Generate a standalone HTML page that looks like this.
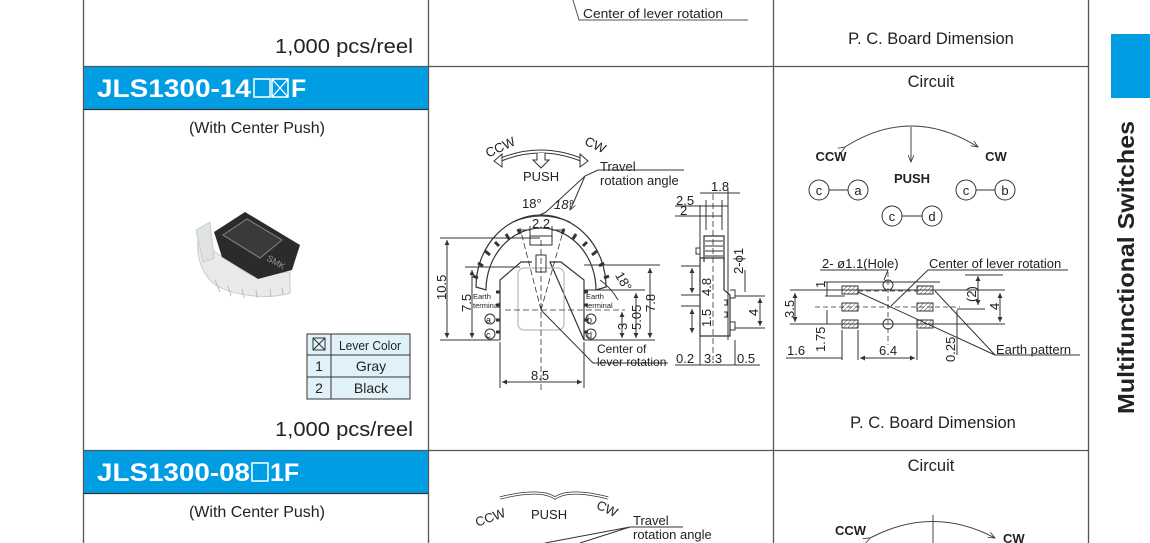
<!DOCTYPE html>
<html><head><meta charset="utf-8"><style>
html,body{margin:0;padding:0;background:#fff}
svg{display:block}
text{font-family:"Liberation Sans",Arial,sans-serif;fill:#222}
</style></head><body>
<svg width="1150" height="543" viewBox="0 0 1150 543" xmlns="http://www.w3.org/2000/svg">
<defs>
<pattern id="h" width="3" height="3" patternUnits="userSpaceOnUse" patternTransform="rotate(45)"><line x1="0" y1="0" x2="0" y2="3" stroke="#555" stroke-width="1"/></pattern>
<marker id="a" markerWidth="8" markerHeight="6" refX="7" refY="3" orient="auto"><path d="M0,0 L7,3 L0,6" fill="none" stroke="#333" stroke-width="0.8"/></marker>
<marker id="t" markerWidth="6" markerHeight="6" refX="5" refY="3" orient="auto-start-reverse"><path d="M0,0.5 L5,3 L0,5.5z" fill="#333"/></marker>
</defs>
<g stroke="#555" stroke-width="1.3" fill="none">
<line x1="83.5" y1="0" x2="83.5" y2="543"/>
<line x1="428.5" y1="0" x2="428.5" y2="543"/>
<line x1="773.5" y1="0" x2="773.5" y2="543"/>
<line x1="1088.5" y1="0" x2="1088.5" y2="543"/>
<line x1="83" y1="66.5" x2="1088" y2="66.5"/>
<line x1="83" y1="450.5" x2="1088" y2="450.5"/>
</g>
<rect x="84" y="67" width="344" height="42" fill="#009de3"/>
<line x1="83" y1="109.5" x2="428" y2="109.5" stroke="#333" stroke-width="1.3"/>
<rect x="84" y="451" width="344" height="42" fill="#009de3"/>
<line x1="83" y1="493.5" x2="428" y2="493.5" stroke="#333" stroke-width="1.3"/>
<rect x="1111" y="34" width="39" height="64" fill="#009de3"/>
<text transform="translate(1134,414) rotate(-90)" font-size="23" font-weight="bold" fill="#111" textLength="293" lengthAdjust="spacingAndGlyphs">Multifunctional Switches</text>

<text x="413" y="53" font-size="20" text-anchor="end" fill="#111" textLength="138" lengthAdjust="spacingAndGlyphs">1,000 pcs/reel</text>
<path d="M573,0 L579,20 L748,20" fill="none" stroke="#555"/>
<text x="583" y="18" font-size="12.5" textLength="140" lengthAdjust="spacingAndGlyphs">Center of lever rotation</text>
<text x="931" y="44" font-size="16.5" text-anchor="middle">P. C. Board Dimension</text>

<text x="97" y="97" font-size="25" font-weight="bold" style="fill:#fff" textLength="154" lengthAdjust="spacingAndGlyphs">JLS1300-14</text>
<rect x="254" y="79" width="16" height="18" fill="none" stroke="#fff" stroke-width="1.5"/>
<rect x="272" y="79" width="16" height="18" fill="none" stroke="#fff" stroke-width="1.5"/>
<path d="M272,79 L288,97 M288,79 L272,97" stroke="#fff" stroke-width="1.3"/>
<text x="291" y="97" font-size="25" font-weight="bold" style="fill:#fff">F</text>
<text x="97" y="481" font-size="25" font-weight="bold" style="fill:#fff" textLength="153" lengthAdjust="spacingAndGlyphs">JLS1300-08</text>
<rect x="252" y="463" width="16" height="18" fill="none" stroke="#fff" stroke-width="1.5"/>
<text x="270" y="481" font-size="25" font-weight="bold" style="fill:#fff">1F</text>

<text x="257" y="133" font-size="16" text-anchor="middle">(With Center Push)</text>
<text x="257" y="517" font-size="16" text-anchor="middle">(With Center Push)</text>
<text x="413" y="436" font-size="20" text-anchor="end" fill="#111" textLength="138" lengthAdjust="spacingAndGlyphs">1,000 pcs/reel</text>

<!-- product photo -->
<g>
<path d="M200,232 C194,250 200,272 214,284 C232,296 268,300 290,293 L290,272 L250,275 L215,252 Z" fill="#e8ebe9" stroke="#ccc"/>
<path d="M196,230 L210,222 L214,258 L203,262 Z" fill="#dfe3e2" stroke="#ccc"/>
<path d="M215,280 L220,292 M228,286 L231,296 M242,289 L244,298 M256,290 L257,298 M270,289 L271,297 M282,288 L283,295" stroke="#bbb"/>
<path d="M214,232 L245,212 L300,245 L292,270 L258,279 L222,257 Z" fill="#2b2b2b"/>
<path d="M223,235 L247,219 L282,240 L260,258 Z" fill="#3a3a3a" stroke="#888" stroke-width="1"/>
<text x="266" y="260" font-size="9" transform="rotate(30 266 260)" style="fill:#999">SMK</text>
</g>
<g font-size="14">
<rect x="307" y="334" width="103" height="65" fill="#e0f1fa" stroke="#333" stroke-width="1"/>
<line x1="307" y1="355" x2="410" y2="355" stroke="#333"/>
<line x1="307" y1="377" x2="410" y2="377" stroke="#333"/>
<line x1="331" y1="334" x2="331" y2="399" stroke="#333"/>
<rect x="313" y="338" width="12" height="12" fill="none" stroke="#333"/>
<path d="M313,338 L325,350 M325,338 L313,350" stroke="#333"/>
<text x="370" y="350" font-size="13" text-anchor="middle" textLength="62" lengthAdjust="spacingAndGlyphs">Lever Color</text>
<text x="319" y="371" text-anchor="middle">1</text><text x="371" y="371" text-anchor="middle">Gray</text>
<text x="319" y="393" text-anchor="middle">2</text><text x="371" y="393" text-anchor="middle">Black</text>
</g>

<g fill="none" stroke="#333" stroke-width="1">
<path d="M500,160 Q540,143 582,160" stroke-width="4"/><path d="M500,160 Q540,143 582,160" stroke="#fff" stroke-width="2"/>
<path d="M494,161 L502,154 L502,167 Z M588,161 L580,154 L580,167 Z" fill="#fff"/>
<path d="M537,153 L537,160 L533,160 L541,168 L549,160 L545,160 L545,153" fill="#fff"/>
<path d="M684,170 L598,170 L585,176 L546,212 M585,176 L572,206"/>
<path d="M546,212 L540,215 M572,206 L570,210" marker-end="url(#a)"/>
<path d="M476,287 A65,72 0 0 1 606,287 L596,290 A55,62 0 0 0 486,290 Z" stroke-width="1.2"/>
<path d="M478,278 l-5,-2 M483,266 l-5,-3 M490,255 l-5,-4 M499,246 l-4,-4 M509,239 l-3,-5 M520,234 l-2,-5 M562,234 l2,-5 M573,239 l3,-5 M583,246 l4,-4 M592,255 l5,-4 M599,266 l5,-3 M604,278 l5,-2" stroke-width="3"/>
<rect x="530" y="236" width="22" height="9"/>
<path d="M500,340 L500,280 L521,262 L532,262 M550,262 L561,262 L584,280 L584,340 Z" stroke-width="1.2"/>
<rect x="518" y="268" width="46" height="62" rx="6" stroke="#aaa"/>
<path d="M536,255 L536,272 L546,272 L546,255 Z"/>
<path d="M496,292 h4 M496,305 h4 M496,320 h4 M496,332 h4 M584,292 h4 M584,305 h4 M584,320 h4 M584,332 h4" stroke-width="3"/>
<circle cx="490" cy="319" r="5"/><circle cx="490" cy="334" r="5"/>
<circle cx="591" cy="319" r="5"/><circle cx="591" cy="334" r="5"/>
<path d="M541,310 L520,228 M541,310 L564,228 M541,240 L541,390 M505,310 L625,310" stroke-dasharray="6,3" stroke-width="0.8"/>
<path d="M541,310 L593,363 L668,363"/>
<path d="M513,222 Q541,210 570,222"/>
<path d="M447,240 L447,338" marker-start="url(#t)" marker-end="url(#t)"/>
<path d="M440,238 L540,238 M440,340 L500,340 M465,267 L520,267 M584,265 L660,265 M584,290 L645,290"/>
<path d="M472,270 L472,338" marker-start="url(#t)" marker-end="url(#t)"/>
<path d="M650,268 L650,338" marker-start="url(#t)" marker-end="url(#t)"/>
<path d="M636,293 L636,338" marker-start="url(#t)" marker-end="url(#t)"/>
<path d="M622,312 L622,338" marker-start="url(#t)" marker-end="url(#t)"/>
<path d="M584,340 L655,340"/>
<path d="M500,342 L500,388 M584,342 L584,388"/>
<path d="M502,382 L582,382" marker-start="url(#t)" marker-end="url(#t)"/>
<path d="M520,230 L530,230 M552,230 L562,230 M530,226 L530,240 M552,226 L552,240"/>
<path d="M600,280 A60,60 0 0 1 618,300"/>
<path d="M704,262 L704,236 L724,236 L724,262" stroke-width="1.2"/>
<path d="M705,241 h18 M705,246 h18 M705,251 h18 M705,256 h18"/>
<path d="M700,258 L700,336 L730,336 L730,295 L724,290 L724,258 Z" stroke-width="1.2"/>
<path d="M696,248 L700,248 L700,254 L696,254 Z"/>
<path d="M730,290 h5 v8 h-5 M730,322 h5 v8 h-5 M724,300 h3 v5 h-3 M724,312 h3 v5 h-3"/>
<path d="M713,194 L713,360" stroke-dasharray="6,3" stroke-width="0.8"/>
<path d="M700,205 L700,365 M728,190 L728,340 M735,340 L735,365 M706,200 L706,230 M722,200 L722,230"/>
<path d="M675,206 L728,206 M675,216 L722,216 M700,193 L740,193 M681,295 L700,295 M681,306 L700,306 M735,296 L765,296 M735,328 L765,328 M681,266 L700,266"/>
<path d="M692,268 L692,293" marker-start="url(#t)" marker-end="url(#t)"/>
<path d="M692,309 L692,333" marker-start="url(#t)" marker-end="url(#t)"/>
<path d="M760,298 L760,326" marker-start="url(#t)" marker-end="url(#t)"/>
<path d="M745,270 L745,292"/>
<path d="M675,365 L760,365"/>
</g>
<g font-size="13">
<text x="486" y="152" transform="rotate(-25 500 150)">CCW</text>
<text x="584" y="147" transform="rotate(25 590 145)">CW</text>
<text x="523" y="181">PUSH</text>
<text x="600" y="171">Travel</text>
<text x="600" y="185">rotation angle</text>
<text x="522" y="208">18°</text><text x="554" y="209" font-style="italic">18°</text>
<text x="532" y="228">2.2</text>
<text x="613" y="282" transform="rotate(60 620 280)">18°</text>
<text x="446" y="300" transform="rotate(-90 446 300)">10.5</text>
<text x="471" y="312" transform="rotate(-90 471 312)">7.5</text>
<text x="655" y="312" transform="rotate(-90 655 312)">7.8</text>
<text x="641" y="330" transform="rotate(-90 641 330)">5.05</text>
<text x="627" y="330" transform="rotate(-90 627 330)">3</text>
<text x="531" y="380">8.5</text>
<text x="597" y="353" font-size="12">Center of</text>
<text x="597" y="366" font-size="12">lever rotation</text>
<text x="473" y="299" font-size="7.5">Earth</text><text x="473" y="308" font-size="7.5">terminal</text>
<text x="586" y="299" font-size="7.5">Earth</text><text x="586" y="308" font-size="7.5">terminal</text>
<text x="486" y="323" font-size="9">a</text><text x="486" y="338" font-size="9">c</text>
<text x="587" y="323" font-size="9">b</text><text x="587" y="338" font-size="9">d</text>
<text x="711" y="191">1.8</text><text x="676" y="205">2.5</text><text x="680" y="215">2</text>
<text x="743" y="274" transform="rotate(-90 743 274)">2-ϕ1</text>
<text x="711" y="296" transform="rotate(-90 711 296)">4.8</text>
<text x="711" y="327" transform="rotate(-90 711 327)">1.5</text>
<text x="758" y="316" transform="rotate(-90 758 316)">4</text>
<text x="676" y="363">0.2</text><text x="704" y="363">3.3</text><text x="737" y="363">0.5</text>
<text x="475" y="522" transform="rotate(-20 490 518)">CCW</text>
<text x="531" y="519">PUSH</text>
<text x="596" y="510" transform="rotate(25 600 508)">CW</text>
<text x="633" y="525">Travel</text><text x="633" y="539">rotation angle</text>
</g>
<g fill="none" stroke="#333">
<path d="M500,498 Q540,488 555,498 Q570,488 608,498" stroke-width="3"/><path d="M500,498 Q540,488 555,498 Q570,488 608,498" stroke="#fff" stroke-width="1.5"/>
<path d="M683,527 L630,527 L545,543 M630,527 L580,543"/>
</g>

<text x="931" y="87" font-size="16.5" text-anchor="middle">Circuit</text>
<text x="931" y="471" font-size="16.5" text-anchor="middle">Circuit</text>
<g fill="none" stroke="#444" stroke-width="1">
<path d="M845,147 Q911,105 978,147" marker-start="url(#a)" marker-end="url(#a)"/>
<path d="M911,127 L911,162" marker-end="url(#a)"/>
<path d="M870,538 Q933,505 995,538" marker-start="url(#a)" marker-end="url(#a)"/>
<path d="M933,515 L933,543"/>
</g>
<g font-size="13" font-weight="bold">
<text x="831" y="161" text-anchor="middle">CCW</text><text x="996" y="161" text-anchor="middle">CW</text>
<text x="912" y="183" text-anchor="middle">PUSH</text>
</g>
<g fill="#fff" stroke="#333">
<circle cx="819" cy="190" r="10"/><circle cx="858" cy="190" r="10"/><line x1="829" y1="190" x2="848" y2="190"/>
<circle cx="966" cy="190" r="10"/><circle cx="1005" cy="190" r="10"/><line x1="976" y1="190" x2="995" y2="190"/>
<circle cx="892" cy="216" r="10"/><circle cx="932" cy="216" r="10"/><line x1="902" y1="216" x2="922" y2="216"/>
</g>
<g font-size="13" text-anchor="middle">
<text x="819" y="195">c</text><text x="858" y="195">a</text><text x="966" y="195">c</text><text x="1005" y="195">b</text><text x="892" y="221">c</text><text x="932" y="221">d</text>
</g>
<text x="835" y="535" font-size="13" font-weight="bold">CCW</text><text x="1003" y="543" font-size="13" font-weight="bold">CW</text>

<g fill="none" stroke="#333" stroke-width="1">
<rect x="842" y="286" width="16" height="8" fill="url(#h)"/><rect x="842" y="303" width="16" height="8" fill="url(#h)"/><rect x="842" y="320" width="16" height="8" fill="url(#h)"/>
<rect x="917" y="286" width="16" height="8" fill="url(#h)"/><rect x="917" y="303" width="16" height="8" fill="url(#h)"/><rect x="917" y="320" width="16" height="8" fill="url(#h)"/>
<circle cx="888" cy="285" r="5"/><circle cx="888" cy="324" r="5"/>
<path d="M888,272 L888,345 M815,307 L960,307 M858,291 L917,291 M858,324 L917,324" stroke-dasharray="5,3" stroke-width="0.8"/>
<path d="M790,290 L1005,290 M790,324 L1005,324 M825,282 L940,282 M825,296 L845,296"/>
<path d="M795,293 L795,322" marker-start="url(#t)" marker-end="url(#t)"/>
<path d="M827,282 L827,296 M827,310 L827,324"/>
<path d="M978,276 L978,305" marker-start="url(#t)" marker-end="url(#t)"/>
<path d="M1000,293 L1000,322" marker-start="url(#t)" marker-end="url(#t)"/>
<path d="M965,275 L1003,275 M957,309 L985,309 M957,310 L957,355"/>
<path d="M842,330 L842,360 M858,330 L858,360 M917,330 L917,360"/>
<path d="M786,358 L842,358"/>
<path d="M860,358 L915,358" marker-start="url(#t)" marker-end="url(#t)"/>
<path d="M820,270 L888,270 L884,280" />
<path d="M1068,270 L928,270 L891,306"/>
<path d="M1080,355 L995,355 L935,291 M995,355 L858,292"/>
</g>
<g font-size="13">
<text x="822" y="268">2- ø1.1(Hole)</text>
<text x="929" y="268">Center of lever rotation</text>
<text x="794" y="318" transform="rotate(-90 794 318)">3.5</text>
<text x="825" y="288" transform="rotate(-90 825 288)">1</text>
<text x="825" y="352" transform="rotate(-90 825 352)">1.75</text>
<text x="976" y="302" transform="rotate(-90 976 302)">(2)</text>
<text x="999" y="310" transform="rotate(-90 999 310)">4</text>
<text x="955" y="362" transform="rotate(-90 955 362)">0.25</text>
<text x="787" y="355">1.6</text><text x="879" y="355">6.4</text>
<text x="996" y="354">Earth pattern</text>
</g>
<text x="933" y="428" font-size="16.5" text-anchor="middle">P. C. Board Dimension</text>
</svg>
</body></html>
